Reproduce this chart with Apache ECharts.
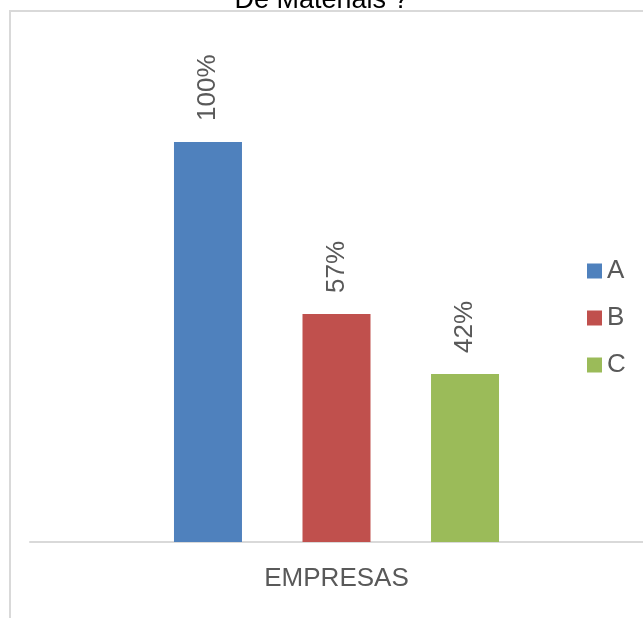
<!DOCTYPE html>
<html>
<head>
<meta charset="utf-8">
<script src="https://cdn.jsdelivr.net/npm/echarts@6/dist/echarts.min.js"></script>
<style>html,body{margin:0;padding:0;background:#fff;}#c{width:643px;height:618px;}</style>
</head>
<body>
<div id="c"></div>
<script>
var titleText = 'De Materiais ?';
var categories = ['EMPRESAS'];
var seriesNames = ['A', 'B', 'C'];
var seriesValues = [[100], [57], [42]];
var colors = ['#4F81BD', '#C0504D', '#9BBB59'];

var FONT = 'Liberation Sans, Arial, sans-serif';
var chart = echarts.init(document.getElementById('c'), null, {renderer: 'canvas'});
var series = seriesNames.map(function (n, i) {
  return {
    name: n,
    type: 'bar',
    data: seriesValues[i],
    barWidth: 68,
    barGap: '89%',
    itemStyle: {color: colors[i]},
    label: {
      show: true,
      position: 'top',
      rotate: 90,
      align: 'left',
      verticalAlign: 'middle',
      distance: 21,
      formatter: '{c}%',
      color: '#595959',
      fontSize: 26,
      fontFamily: FONT
    }
  };
});
chart.setOption({
  animation: false,
  backgroundColor: '#fff',
  title: {
    text: titleText,
    left: 'center',
    top: -18,
    textStyle: {fontSize: 27, fontWeight: 'normal', color: '#000', fontFamily: FONT}
  },
  graphic: [{
    type: 'rect',
    shape: {x: 10, y: 11, width: 800, height: 800},
    style: {fill: null, stroke: '#d9d9d9', lineWidth: 2},
    silent: true,
    z: -1
  }],
  legend: {
    orient: 'vertical',
    left: 582,
    top: 253,
    padding: 5,
    icon: 'rect',
    itemWidth: 15,
    itemHeight: 15,
    itemGap: 21,
    textStyle: {fontSize: 26, lineHeight: 26, color: '#595959', fontFamily: FONT},
    data: seriesNames
  },
  grid: {left: 30, width: 616, top: 142, bottom: 76, containLabel: false},
  xAxis: {
    type: 'category',
    data: categories,
    axisLine: {lineStyle: {color: '#d9d9d9', width: 2}},
    axisTick: {show: false},
    axisLabel: {fontSize: 26, color: '#595959', margin: 24, fontFamily: FONT}
  },
  yAxis: {type: 'value', min: 0, max: 100, show: false},
  series: series
});
</script>
</body>
</html>
